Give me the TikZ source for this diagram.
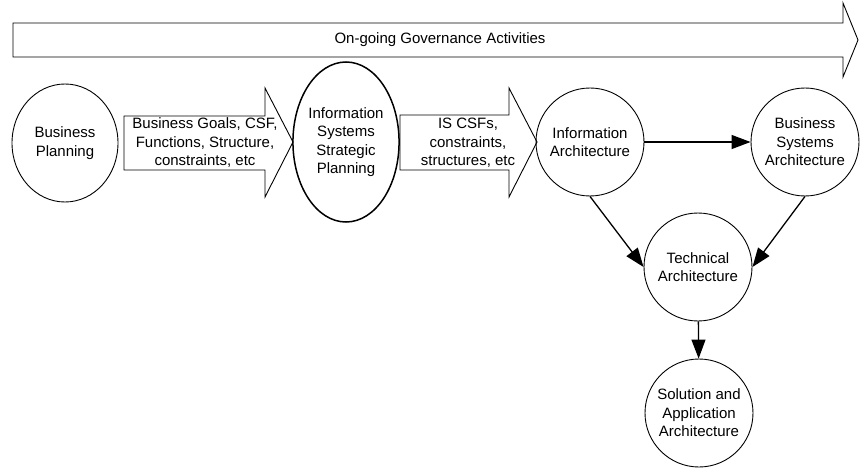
\documentclass[tikz,border=0pt]{standalone}
\usepackage{fontspec}
\setmainfont{Liberation Sans}
\usetikzlibrary{arrows.meta,shapes.geometric}
\begin{document}
\begin{tikzpicture}[x=1pt,y=-1pt,
  lbl/.style={font=\fontsize{15}{18.5}\selectfont, align=center, inner sep=0pt},
  bubble/.style={draw, line width=0.9pt, circle, minimum size=108pt, inner sep=0pt,
    font=\fontsize{15}{18.5}\selectfont, align=center},
  oval/.style={draw, line width=0.9pt, ellipse, inner sep=0pt,
    font=\fontsize{15}{18.5}\selectfont, align=center},
  fatarrow/.style={draw, line width=0.9pt, line join=miter},
  conn/.style={line width=1.3pt, -{Triangle[length=19pt,width=14pt]}}]
\useasboundingbox (0,0) rectangle (860,468);

% governance band across the top
\draw[fatarrow] (13,23) -- (843,23) -- (843,3) -- (858,40) -- (843,77)
  -- (843,57) -- (13,57) -- cycle;
\node[lbl] (gov) at (440,40) {On-going Governance Activities};

% planning stages
\node[oval, minimum width=106pt, minimum height=118pt] (bp) at (65,143)
  {Business\\Planning};
\node[oval, line width=1.5pt, minimum width=102pt, minimum height=160pt] (issp) at (346,142)
  {Information\\Systems\\Strategic\\Planning};

% hand-over arrows between stages
\draw[fatarrow] (124,116) -- (265,116) -- (265,88) -- (293,142) -- (265,197)
  -- (265,170) -- (124,170) -- cycle;
\node[lbl] (bgoals) at (205,143)
  {Business Goals, CSF,\\Functions, Structure,\\constraints, etc};
\draw[fatarrow] (400,115) -- (509,115) -- (509,88) -- (537,142) -- (509,197)
  -- (509,170) -- (400,170) -- cycle;
\node[lbl] (iscsf) at (468,143)
  {IS CSFs,\\constraints,\\structures, etc};

% architecture domains
\node[bubble] (ia) at (590,142) {Information\\Architecture};
\node[bubble] (bsa) at (805,142) {Business\\Systems\\Architecture};
\node[bubble] (ta) at (698,267) {Technical\\Architecture};
\node[bubble] (sol) at (699,413) {Solution and\\Application\\Architecture};

\draw[conn] (ia) -- (bsa);
\draw[conn] (ia.south) -- (ta.west);
\draw[conn] (bsa.south) -- (ta.east);
\draw[conn] (ta) -- (sol);
\end{tikzpicture}
\end{document}
